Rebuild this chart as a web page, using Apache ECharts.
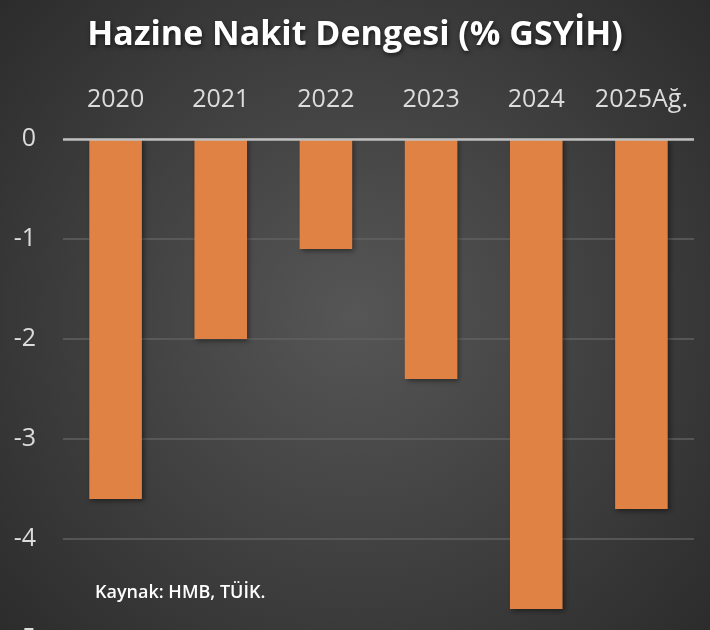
<!DOCTYPE html>
<html>
<head>
<meta charset="utf-8">
<script src="https://cdn.jsdelivr.net/npm/echarts@6/dist/echarts.min.js"></script>
<style>
  html, body { margin: 0; padding: 0; }
  #main { width: 710px; height: 630px; }
</style>
</head>
<body>
<div id="main"></div>
<script>
// veriler
const years = ['2020', '2021', '2022', '2023', '2024', '2025Ağ.'];
const cashBalance = [-3.6, -2.0, -1.1, -2.4, -4.7, -3.7];
const yTicks = [0, -1, -2, -3, -4, -5];

const chart = echarts.init(document.getElementById('main'));
const option = {
  backgroundColor: {
    type: 'radial', x: 0.5, y: 0.5, r: 0.75,
    colorStops: [
      { offset: 0, color: '#565656' },
      { offset: 1, color: '#2c2c2c' }
    ]
  },
  title: {
    text: 'Hazine Nakit Dengesi (% GSYİH)',
    left: 'center',
    top: 13,
    textStyle: {
      color: '#ffffff', fontSize: 34, fontWeight: 'bold', fontFamily: 'Open Sans',
      textShadowColor: 'rgba(0,0,0,0.6)', textShadowBlur: 4, textShadowOffsetX: 1, textShadowOffsetY: 2
    }
  },
  graphic: [{
    type: 'text', left: 95, top: 584,
    style: { text: 'Kaynak: HMB, TÜİK.', fill: '#ffffff', font: '600 18px "Open Sans"' }
  }],
  grid: { left: 63, right: 16, top: 139, height: 500, containLabel: false, outerBoundsMode: 'none' },
  xAxis: {
    type: 'category',
    data: years,
    position: 'top',
    axisLine: { show: false },
    axisTick: { show: false },
    axisLabel: { interval: 0, color: '#dcdcdc', fontSize: 25, fontFamily: 'Open Sans', margin: 27 }
  },
  yAxis: {
    type: 'value',
    min: Math.min(...yTicks),
    max: Math.max(...yTicks),
    interval: 1,
    axisLine: { show: false },
    axisTick: { show: false },
    splitLine: { lineStyle: { color: '#616161', width: 1.5 } },
    axisLabel: { color: '#dcdcdc', fontSize: 25, fontFamily: 'Open Sans', margin: 27 }
  },
  series: [
    {
      type: 'bar',
      data: cashBalance,
      barWidth: '50%',
      itemStyle: {
        color: '#E08244',
        shadowColor: 'rgba(0,0,0,0.45)', shadowBlur: 5, shadowOffsetX: 2, shadowOffsetY: 2
      },
      markLine: {
        silent: true, symbol: 'none', label: { show: false },
        lineStyle: { color: '#bfbfbf', width: 2.5, type: 'solid' },
        data: [{ yAxis: 0 }]
      },
      z: 3
    }
  ]
};
chart.setOption(option);
</script>
</body>
</html>
